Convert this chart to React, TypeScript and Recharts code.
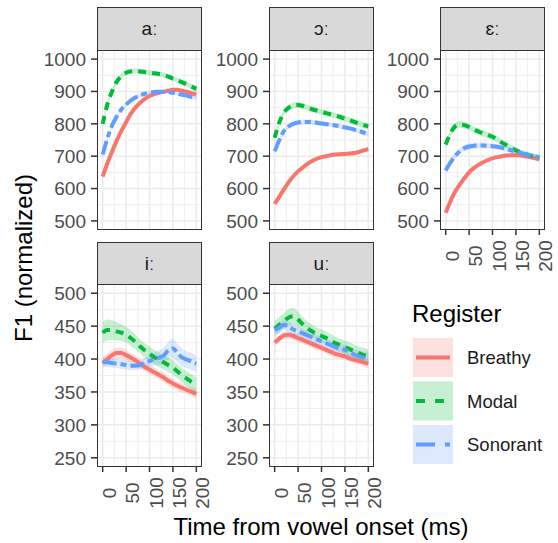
import React from 'react';
import { ComposedChart, Line, Area, XAxis, YAxis, CartesianGrid } from 'recharts';

const FONT = "'Liberation Sans', Arial, 'DejaVu Sans', sans-serif";

// ---------- data ----------
const TIME = [0, 10, 20, 30, 40, 50, 60, 70, 80, 90, 100, 110, 120, 130, 140, 150, 160, 170, 180, 190, 200];
const SERIES_NAMES = ['Breathy', 'Modal', 'Sonorant'];
const VOWELS = ['aː', 'ɔː', 'ɛː', 'iː', 'uː'];

const X_MAJOR = [0, 50, 100, 150, 200];
const X_MINOR = [25, 75, 125, 175];
const TOP_Y_MAJOR = [500, 600, 700, 800, 900, 1000];
const TOP_Y_MINOR = [550, 650, 750, 850, 950];
const BOT_Y_MAJOR = [250, 300, 350, 400, 450, 500];
const BOT_Y_MINOR = [275, 325, 375, 425, 475];

// aː
const A_BREATHY = [637, 678, 714, 748, 778, 805, 831, 850, 865, 877, 886, 892, 896, 899, 902, 905, 905, 902, 899, 895, 890];
const A_MODAL = [800, 860, 900, 930, 948, 958, 962, 963, 962, 960, 958, 956, 954, 951, 946, 940, 934, 928, 922, 915, 908];
const A_SONORANT = [705, 755, 795, 823, 845, 860, 872, 881, 888, 893, 896, 898, 899, 899, 898, 896, 893, 890, 887, 883, 880];
const A_BREATHY_SE = [8, 7, 6, 6, 5, 5, 5, 5, 5, 5, 5, 5, 5, 5, 5, 5, 5, 5, 6, 6, 7];
const A_MODAL_SE = [12, 10, 9, 8, 8, 8, 8, 8, 8, 8, 8, 8, 8, 8, 8, 8, 8, 8, 9, 9, 10];
const A_SONORANT_SE = [10, 8, 7, 6, 6, 6, 6, 5, 5, 5, 5, 5, 5, 5, 5, 5, 5, 6, 6, 6, 7];

// ɔː
const O_BREATHY = [553, 575, 598, 620, 638, 653, 665, 676, 685, 692, 697, 700, 703, 705, 706, 707, 708, 710, 713, 718, 722];
const O_MODAL = [757, 805, 835, 850, 857, 858, 855, 850, 845, 841, 837, 833, 829, 825, 821, 816, 811, 806, 801, 796, 792];
const O_SONORANT = [715, 750, 778, 792, 800, 804, 806, 806, 805, 803, 801, 799, 797, 795, 792, 789, 786, 782, 778, 773, 768];
const O_BREATHY_SE = [6, 5, 5, 5, 5, 5, 5, 5, 5, 5, 5, 5, 5, 5, 5, 5, 5, 5, 5, 6, 6];
const O_MODAL_SE = [12, 10, 9, 9, 9, 9, 9, 9, 9, 9, 9, 9, 9, 9, 9, 9, 9, 9, 10, 10, 11];
const O_SONORANT_SE = [9, 8, 7, 7, 7, 7, 7, 7, 7, 7, 7, 7, 7, 7, 7, 7, 7, 7, 7, 8, 8];

// ɛː
const E_BREATHY = [525, 560, 590, 612, 632, 650, 663, 673, 681, 688, 693, 697, 700, 702, 703, 703, 702, 700, 697, 694, 690];
const E_MODAL = [736, 770, 792, 798, 796, 790, 782, 776, 770, 765, 760, 752, 742, 734, 726, 718, 712, 707, 702, 698, 694];
const E_SONORANT = [656, 680, 700, 715, 725, 730, 732, 733, 733, 732, 731, 729, 726, 722, 718, 714, 710, 706, 702, 699, 697];
const E_BREATHY_SE = [7, 6, 6, 5, 5, 5, 5, 5, 5, 5, 5, 5, 5, 5, 5, 5, 5, 5, 5, 6, 6];
const E_MODAL_SE = [12, 11, 11, 11, 10, 10, 10, 10, 10, 10, 10, 10, 9, 9, 9, 9, 9, 9, 9, 10, 10];
const E_SONORANT_SE = [10, 9, 9, 9, 9, 9, 9, 9, 9, 8, 8, 8, 8, 8, 8, 8, 8, 8, 8, 8, 9];

// iː
const I_BREATHY = [394, 400, 406, 409, 409, 406, 402, 398, 393, 388, 384, 380, 376, 372, 367, 363, 359, 356, 353, 350, 347];
const I_MODAL = [440, 444, 444, 442, 440, 437, 432, 426, 419, 413, 408, 403, 399, 395, 391, 387, 381, 375, 370, 365, 360];
const I_SONORANT = [396, 395, 394, 393, 392, 391, 390, 390, 391, 394, 397, 400, 402, 405, 413, 416, 409, 402, 399, 396, 393];
const I_BREATHY_SE = [8, 8, 8, 8, 8, 8, 7, 7, 7, 7, 7, 7, 7, 7, 7, 7, 7, 7, 7, 7, 8];
const I_MODAL_SE = [16, 16, 15, 14, 13, 12, 12, 11, 11, 11, 11, 11, 11, 11, 11, 11, 11, 11, 11, 12, 12];
const I_SONORANT_SE = [7, 7, 7, 7, 7, 7, 7, 7, 7, 8, 9, 10, 11, 12, 13, 14, 14, 14, 13, 13, 12];

// uː
const U_BREATHY = [425, 431, 436, 437, 435, 432, 429, 426, 423, 420, 417, 414, 411, 408, 406, 404, 401, 399, 397, 395, 393];
const U_MODAL = [446, 452, 458, 463, 465, 460, 453, 447, 442, 438, 435, 432, 428, 424, 421, 418, 415, 412, 409, 406, 404];
const U_SONORANT = [444, 448, 452, 449, 445, 442, 439, 436, 433, 430, 427, 424, 421, 418, 416, 414, 411, 407, 404, 402, 400];
const U_BREATHY_SE = [6, 6, 6, 6, 6, 6, 6, 6, 6, 6, 6, 6, 6, 6, 6, 6, 6, 6, 6, 7, 7];
const U_MODAL_SE = [12, 12, 12, 13, 13, 12, 11, 10, 10, 10, 10, 10, 10, 10, 10, 10, 10, 10, 10, 11, 11];
const U_SONORANT_SE = [8, 8, 8, 8, 8, 7, 7, 7, 7, 7, 7, 7, 7, 7, 7, 7, 7, 8, 9, 10, 10];

// ---------- styles ----------
const COLORS = ['#F8766D', '#00BA38', '#619CFF'];
const DASHES = [undefined, '8 6', '14 4 6 4'];
const LEGEND_DASHES = [undefined, '9 10', '19 10 5 10'];
const LINE_W = 4;
const TICK_FS = 19;

const YW = 70;
const XH = 50;
const MT = 12;
const MB = 12;
const MR = 16;

type PanelCfg = {
  label: string;
  left: number;
  top: number;
  w: number;
  h: number;
  stripTop: number;
  bottomRow: boolean;
  showX: boolean;
  b: number[]; m: number[]; s: number[];
  bse: number[]; mse: number[]; sse: number[];
};

const PANELS: PanelCfg[] = [
  { label: VOWELS[0], left: 98, top: 51, w: 103, h: 178, stripTop: 8, bottomRow: false, showX: false, b: A_BREATHY, m: A_MODAL, s: A_SONORANT, bse: A_BREATHY_SE, mse: A_MODAL_SE, sse: A_SONORANT_SE },
  { label: VOWELS[1], left: 270, top: 51, w: 103, h: 178, stripTop: 8, bottomRow: false, showX: false, b: O_BREATHY, m: O_MODAL, s: O_SONORANT, bse: O_BREATHY_SE, mse: O_MODAL_SE, sse: O_SONORANT_SE },
  { label: VOWELS[2], left: 441, top: 51, w: 103, h: 178, stripTop: 8, bottomRow: false, showX: true, b: E_BREATHY, m: E_MODAL, s: E_SONORANT, bse: E_BREATHY_SE, mse: E_MODAL_SE, sse: E_SONORANT_SE },
  { label: VOWELS[3], left: 98, top: 285, w: 103, h: 181, stripTop: 243, bottomRow: true, showX: true, b: I_BREATHY, m: I_MODAL, s: I_SONORANT, bse: I_BREATHY_SE, mse: I_MODAL_SE, sse: I_SONORANT_SE },
  { label: VOWELS[4], left: 270, top: 285, w: 103, h: 181, stripTop: 243, bottomRow: true, showX: true, b: U_BREATHY, m: U_MODAL, s: U_SONORANT, bse: U_BREATHY_SE, mse: U_MODAL_SE, sse: U_SONORANT_SE },
];

function XTick(props: any) {
  const { x, y, payload } = props;
  return (
    <text
      transform={`translate(${x + 13},${y + 21}) rotate(-90)`}
      textAnchor="middle"
      fill="#4d4d4d"
      fontSize={TICK_FS}
      fontFamily={FONT}
    >
      {payload.value}
    </text>
  );
}

function Panel({ p }: { p: PanelCfg }) {
  const rows = TIME.map((t, i) => ({
    t,
    b: p.b[i],
    m: p.m[i],
    s: p.s[i],
    bR: [p.b[i] - p.bse[i], p.b[i] + p.bse[i]],
    mR: [p.m[i] - p.mse[i], p.m[i] + p.mse[i]],
    sR: [p.s[i] - p.sse[i], p.s[i] + p.sse[i]],
  }));
  const yDomain = p.bottomRow ? [237.5, 512.5] : [475, 1025];
  const yMajor = p.bottomRow ? BOT_Y_MAJOR : TOP_Y_MAJOR;
  const yMinor = p.bottomRow ? BOT_Y_MINOR : TOP_Y_MINOR;
  const width = YW + p.w + MR;
  const height = MT + p.h + MB + (p.showX ? XH : 0);
  const keys = ['b', 'm', 's'];
  return (
    <>
      <div style={{ position: 'absolute', left: p.left - YW, top: p.top - MT, width, height }}>
        <ComposedChart width={width} height={height} data={rows} margin={{ top: MT, right: MR, bottom: MB, left: 0 }}>
          <CartesianGrid stroke="#ebebeb" strokeWidth={0.8} horizontalValues={yMinor} verticalValues={X_MINOR} />
          <CartesianGrid stroke="#ebebeb" strokeWidth={1.5} horizontalValues={yMajor} verticalValues={X_MAJOR} />
          <XAxis
            dataKey="t"
            type="number"
            domain={[-10, 210]}
            ticks={X_MAJOR}
            interval={0}
            allowDataOverflow
            hide={!p.showX}
            height={p.showX ? XH : 0}
            axisLine={false}
            tickLine={{ stroke: '#333333', strokeWidth: 1.5 }}
            tickSize={6}
            tickMargin={0}
            tick={<XTick />}
          />
          <YAxis
            type="number"
            domain={yDomain}
            ticks={yMajor}
            interval={0}
            allowDataOverflow
            width={YW}
            axisLine={false}
            tickLine={{ stroke: '#333333', strokeWidth: 1.5 }}
            tickSize={7}
            tickMargin={5}
            tick={{ fill: '#4d4d4d', fontSize: TICK_FS, fontFamily: FONT }}
          />
          {keys.map((k, i) => (
            <Area
              key={k + 'R'}
              dataKey={k + 'R'}
              type="monotone"
              stroke="none"
              fill={COLORS[i]}
              fillOpacity={0.22}
              isAnimationActive={false}
              dot={false}
              activeDot={false}
            />
          ))}
          {keys.map((k, i) => (
            <Line
              key={k}
              dataKey={k}
              name={SERIES_NAMES[i]}
              type="monotone"
              stroke={COLORS[i]}
              strokeWidth={LINE_W}
              strokeDasharray={DASHES[i]}
              dot={false}
              activeDot={false}
              isAnimationActive={false}
            />
          ))}
        </ComposedChart>
      </div>
      {/* panel border */}
      <div
        style={{
          position: 'absolute',
          left: p.left - 0.75,
          top: p.top - 0.75,
          width: p.w + 1.5,
          height: p.h + 1.5,
          border: '1.5px solid #333333',
          boxSizing: 'border-box',
          pointerEvents: 'none',
        }}
      />
      {/* strip */}
      <div
        style={{
          position: 'absolute',
          left: p.left - 0.75,
          top: p.stripTop - 0.75,
          width: p.w + 1.5,
          height: p.top - p.stripTop + 0.75,
          background: '#d9d9d9',
          border: '1.5px solid #333333',
          boxSizing: 'border-box',
          display: 'flex',
          alignItems: 'center',
          justifyContent: 'center',
          fontFamily: FONT,
          fontSize: 19,
          color: '#1a1a1a',
        }}
      >
        {p.label}
      </div>
    </>
  );
}

function Legend() {
  const boxTops = [338, 381.5, 425];
  return (
    <svg width={558} height={543} style={{ position: 'absolute', left: 0, top: 0, pointerEvents: 'none' }}>
      <text x={321} y={535} textAnchor="middle" fontSize={24} fontFamily={FONT} fill="#000">
        Time from vowel onset (ms)
      </text>
      <text transform="translate(32,258) rotate(-90)" textAnchor="middle" fontSize={24} fontFamily={FONT} fill="#000">
        F1 (normalized)
      </text>
      <text x={412} y={322} fontSize={24} fontFamily={FONT} fill="#000">
        Register
      </text>
      {SERIES_NAMES.map((name, i) => (
        <g key={name}>
          <rect x={413} y={boxTops[i]} width={40} height={39} fill={COLORS[i]} fillOpacity={0.22} />
          <line
            x1={416}
            x2={450}
            y1={boxTops[i] + 19.5}
            y2={boxTops[i] + 19.5}
            stroke={COLORS[i]}
            strokeWidth={LINE_W}
            strokeDasharray={LEGEND_DASHES[i]}
          />
          <text x={467} y={boxTops[i] + 26} fontSize={18.5} fontFamily={FONT} fill="#1a1a1a">
            {name}
          </text>
        </g>
      ))}
    </svg>
  );
}

export default function App() {
  return (
    <div style={{ position: 'absolute', left: 0, top: 0, width: 558, height: 543, background: '#fff', overflow: 'hidden' }}>
      {PANELS.map((p) => (
        <Panel key={p.label} p={p} />
      ))}
      <Legend />
    </div>
  );
}
